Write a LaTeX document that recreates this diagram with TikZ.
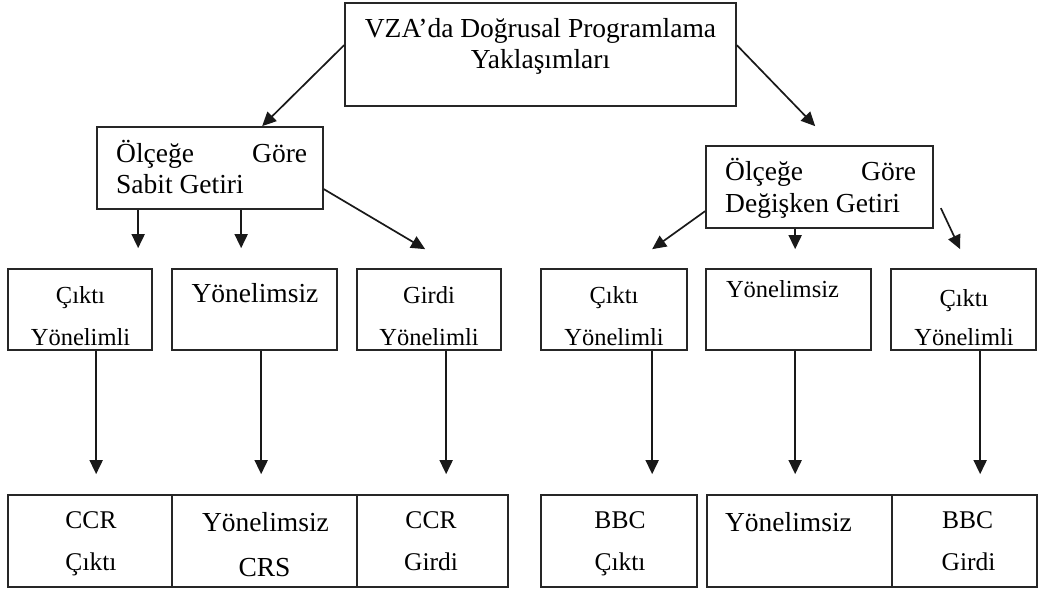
\documentclass[tikz,border=0pt]{standalone}
\usepackage{fontspec}
\setmainfont{Liberation Serif}
\usetikzlibrary{arrows.meta,calc,fit}
\begin{document}
\begin{tikzpicture}[x=1pt,y=-1pt,
  box/.style={draw=black!85, line width=1.7pt, inner sep=0pt},
  arr/.style={draw=black!90, line width=1.7pt, -{Triangle[length=14pt,width=13pt]}},
  txt/.style={inner sep=0pt, anchor=base, text=black},
  big/.style={font=\fontsize{27.5}{31}\selectfont},
  med/.style={font=\fontsize{25.5}{29}\selectfont},
  sml/.style={font=\fontsize{24.5}{28}\selectfont},
]
\useasboundingbox (0,0) rectangle (1038,589);

% ---- boxes ----
\node[box, fit={(345,3) (736,106)}] (top) {};
\node[box, fit={(97,127) (323,209)}] (ca) {};
\node[box, fit={(706,146) (933,228)}] (cb) {};
\node[box, fit={(8,269) (152,350)}] (b1) {};
\node[box, fit={(172,269) (337,350)}] (b2) {};
\node[box, fit={(357,269) (501,350)}] (b3) {};
\node[box, fit={(541,269) (687,350)}] (b4) {};
\node[box, fit={(706,269) (871,350)}] (b5) {};
\node[box, fit={(891,269) (1036,350)}] (b6) {};
\node[box, fit={(8,495) (172,587)}] (c1) {};
\node[box, fit={(172,495) (357,587)}] (c2) {};
\node[box, fit={(357,495) (508,587)}] (c3) {};
\node[box, fit={(541,495) (697,587)}] (c4) {};
\node[box, fit={(707,495) (892,587)}] (c5) {};
\node[box, fit={(892,495) (1037,587)}] (c6) {};

% ---- texts ----
\node[txt, big] (t1) at (540.5,37) {VZA’da Doğrusal Programlama};
\node[txt, big] (t2) at (540.5,68) {Yaklaşımları};

\node[txt, big, anchor=base west] (ca1) at (116,162) {\makebox[191pt][l]{Ölçeğe\hfill Göre}};
\node[txt, big, anchor=base west] (ca2) at (116,193) {Sabit Getiri};
\node[txt, big, anchor=base west] (cb1) at (725,180) {\makebox[191pt][l]{Ölçeğe\hfill Göre}};
\node[txt, big, anchor=base west] (cb2) at (725,212) {Değişken Getiri};

\node[txt, sml] (b1a) at (80.5,303) {Çıktı};
\node[txt, sml] (b1b) at (80.5,345) {Yönelimli};
\node[txt, big] (b2a) at (255,302) {Yönelimsiz};
\node[txt, sml] (b3a) at (429,303) {Girdi};
\node[txt, sml] (b3b) at (429,345) {Yönelimli};
\node[txt, sml] (b4a) at (614,303) {Çıktı};
\node[txt, sml] (b4b) at (614,345) {Yönelimli};
\node[txt, sml] (b5a) at (782.5,297) {Yönelimsiz};
\node[txt, sml] (b6a) at (964,306) {Çıktı};
\node[txt, sml] (b6b) at (964,345) {Yönelimli};

\node[txt, med] (c1a) at (91,528) {CCR};
\node[txt, med] (c1b) at (91,570) {Çıktı};
\node[txt, big] (c2a) at (265.5,531) {Yönelimsiz};
\node[txt, big] (c2b) at (264.5,576) {CRS};
\node[txt, med] (c3a) at (431,528) {CCR};
\node[txt, med] (c3b) at (431,570) {Girdi};
\node[txt, med] (c4a) at (620,528) {BBC};
\node[txt, med] (c4b) at (620,570) {Çıktı};
\node[txt, big] (c5a) at (788.5,531) {Yönelimsiz};
\node[txt, med] (c6a) at (967.5,528) {BBC};
\node[txt, med] (c6b) at (968.5,570) {Girdi};

% ---- connectors ----
\draw[arr] ($(top.north west)+(0,43)$) -- ($(ca.north west)+(166,0)$);
\draw[arr] ($(top.north east)+(0,43)$) -- ($(cb.north west)+(110,-19)$);

\draw[arr] ($(ca.south west)+(42,0)$) -- ($(b1.north west)+(131,-20)$);
\draw[arr] ($(ca.south west)+(145,0)$) -- ($(b2.north west)+(70,-20)$);
\draw[arr] ($(ca.north east)+(0,63)$) -- ($(b3.north west)+(69,-19)$);

\draw[arr] ($(cb.north west)+(0,66)$) -- ($(b4.north west)+(112,-19)$);
\draw[arr] ($(cb.south west)+(90,0)$) -- ($(b5.north west)+(90,-19)$);
\draw[arr] ($(cb.north east)+(7,63)$) -- ($(b6.north west)+(70,-19)$);

\draw[arr] ($(b1.south west)+(89,0)$) -- ($(c1.north west)+(89,-20)$);
\draw[arr] ($(b2.south west)+(90,0)$) -- ($(c2.north west)+(90,-20)$);
\draw[arr] ($(b3.south west)+(90,0)$) -- ($(c3.north west)+(90,-20)$);
\draw[arr] ($(b4.south west)+(112,0)$) -- ($(c4.north west)+(112,-20)$);
\draw[arr] ($(b5.south west)+(90,0)$) -- ($(c5.north west)+(89,-20)$);
\draw[arr] ($(b6.south west)+(90,0)$) -- ($(c6.north west)+(89,-20)$);
\end{tikzpicture}
\end{document}
